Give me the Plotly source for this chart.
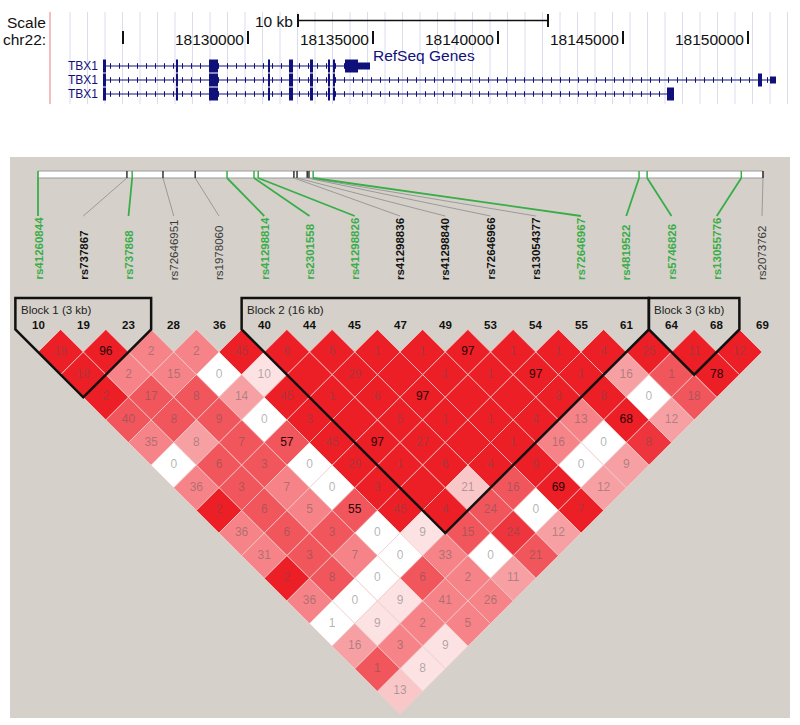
import plotly.graph_objects as go

W, H = 800, 725

# ---------------- data ----------------
snp_ids = [10, 19, 23, 28, 36, 40, 44, 45, 47, 49, 53, 54, 55, 61, 64, 68, 69]
snp_names = ["rs41260844", "rs737867", "rs737868", "rs72646951", "rs1978060",
             "rs41298814", "rs2301558", "rs41298826", "rs41298836", "rs41298840",
             "rs72646966", "rs13054377", "rs72646967", "rs4819522", "rs5746826",
             "rs13055776", "rs2073762"]
# g = green (tagged), b = bold black, n = normal grey
snp_group = ["g", "b", "g", "n", "n", "g", "g", "g", "b", "b", "b", "b", "g", "g", "g", "g", "n"]
# relative physical position of each SNP along the map bar (kb)
snp_pos_kb = [0.0, 2.54, 2.69, 3.57, 4.49, 5.40, 6.17, 6.29, 7.31, 7.40, 7.69, 7.74, 7.86,
              17.17, 17.40, 20.09, 20.71]

# LD values shown in the cells, one list per diagonal distance d = j - i (None = no number)
ld_rows = [
    [18, 96, 2, 2, 45, 6, 6, 1, 1, 97, 1, 1, 4, 25, 11, 12],
    [18, 2, 15, 0, 10, None, 29, None, 1, 1, 97, 1, 16, 1, 78],
    [2, 17, 8, 14, 45, 1, 6, 97, None, None, 3, 8, 0, 18],
    [40, 8, 9, 0, 3, None, 5, 1, 1, 4, 13, 68, 12],
    [35, 8, 7, 57, 45, 97, 27, None, 1, 16, 0, 8],
    [0, 6, 3, 0, 29, 1, 6, 4, 9, 0, 9],
    [36, 3, 7, 0, 3, None, 21, 16, 69, 12],
    [2, 6, 5, 55, 45, 4, 24, 0, 7],
    [36, 6, 3, 0, 9, 15, 24, 12],
    [31, 3, 7, 0, 33, 0, 21],
    [2, 8, 0, 6, 2, 11],
    [36, 0, 9, 41, 26],
    [1, 9, 2, 5],
    [16, 3, 9],
    [1, 8],
    [13],
]
# colour strength of each cell (D' estimate, 0 = white, 100 = full red)
R, M0, M1, M2, L1, L2, L3, Wt = 100, 90, 75, 55, 42, 25, 13, 0
dp_rows = [
    [R, R, M2, M2, R, R, R, R, R, R, R, R, R, R, R, R],
    [R, M2, M2, Wt, L3, R, R, R, R, R, R, R, L1, M1, R],
    [R, M1, M1, L1, R, R, R, R, R, R, R, R, Wt, M1],
    [M1, M1, M1, Wt, R, R, R, R, R, R, M2, R, L1],
    [M2, L1, M1, M1, R, R, R, R, R, M2, Wt, M0],
    [Wt, M1, M1, Wt, R, R, R, R, R, Wt, L1],
    [M2, M1, M2, Wt, R, R, L2, M1, R, L1],
    [R, M1, M2, M1, R, R, M1, Wt, R],
    [M2, M1, M1, Wt, L3, M1, M0, L1],
    [M2, M1, M2, Wt, M2, Wt, M1],
    [R, M1, Wt, M1, M2, L1],
    [M2, Wt, L3, M2, M2],
    [Wt, L3, M2, M2],
    [L1, M2, L3],
    [M1, L3],
    [L2],
]
blocks = [(0, 2, "Block 1 (3 kb)"), (5, 13, "Block 2 (16 kb)"), (14, 15, "Block 3 (3 kb)")]

# UCSC gene track (bp)
tx_start = 18124200
tx_ends = [18134880, 18151120, 18147040]
shared_exons = [(18124200, 18124320), (18127120, 18127200), (18128440, 18128800),
                (18130800, 18130880), (18131640, 18131800), (18132480, 18132600),
                (18133200, 18133280), (18133400, 18133480)]
row_exons = [
    [(18133880, 18134400, "cds"), (18134400, 18134880, "utr")],
    [(18150400, 18150560, "cds"), (18150880, 18151120, "utr")],
    [(18146760, 18147040, "cds")],
]
coord_ticks = [18125000, 18130000, 18135000, 18140000, 18145000, 18150000]
coord_labels = ["", "18130000", "18135000", "18140000", "18145000", "18150000"]
scale_bar = (18132000, 18142000)

# ---------------- geometry of the picture ----------------
X0, XS = 38.0, 45.25            # SNP k is at pixel X0 + XS*k
Y0, YS = 329.4, 22.625          # row d centre at pixel Y0 + YS*d
BAR0, BAR1 = 38.0, 763.0
KBS = (BAR1 - BAR0) / snp_pos_kb[-1]
BP_REF, BP_PX, BP_SCALE = 18130000, 248.0, 0.025
FONT = "Liberation Sans, Arial, sans-serif"
NAVY = "#10107a"
GREEN = "#38ad48"
RED = (236, 30, 38)


def cell_color(v):
    s = v / 100.0
    r = round(255 * (1 - s) + RED[0] * s)
    g = round(255 * (1 - s) + RED[1] * s)
    b = round(255 * (1 - s) + RED[2] * s)
    return f"rgb({r},{g},{b})"


def bar_px(kb):
    return BAR0 + kb * KBS


fig = go.Figure()
shapes = []
annotations = []

# grey Haploview panel
shapes.append(dict(type="rect", xref="paper", yref="y2", x0=10 / W, x1=790 / W, y0=157, y1=718,
                   fillcolor="#d5d1ca", line=dict(width=0), layer="below"))

# ---------------- UCSC panel ----------------
grid_bp = list(range(18122880, 18151900, 700))
for g in grid_bp:
    shapes.append(dict(type="line", xref="x2", yref="y2", x0=g, x1=g, y0=12, y1=104,
                       line=dict(color="#dcdcf0", width=1), layer="below"))
shapes.append(dict(type="line", xref="x2", yref="y2", x0=18122080, x1=18122080, y0=12, y1=104,
                   line=dict(color="#f2a8a8", width=1.5), layer="below"))
annotations.append(dict(text="Scale", xref="paper", yref="y2", x=48 / W, y=22, xanchor="right",
                        yanchor="middle", showarrow=False, font=dict(family=FONT, size=15.5, color="#111")))
annotations.append(dict(text="chr22:", xref="paper", yref="y2", x=48 / W, y=39, xanchor="right",
                        yanchor="middle", showarrow=False, font=dict(family=FONT, size=15.5, color="#111")))
# scale bar
shapes.append(dict(type="line", xref="x2", yref="y2", x0=scale_bar[0], x1=scale_bar[1], y0=20.5, y1=20.5,
                   line=dict(color="#111", width=1.5)))
for e in scale_bar:
    shapes.append(dict(type="rect", xref="x2", yref="y2", x0=e - 40, x1=e + 40, y0=14, y1=27,
                       fillcolor="#111", line=dict(width=0)))
annotations.append(dict(text="10 kb", xref="x2", yref="y2", x=scale_bar[0] - 120, y=21, xanchor="right",
                        yanchor="middle", showarrow=False, font=dict(family=FONT, size=15.5, color="#111")))
for t, lab in zip(coord_ticks, coord_labels):
    shapes.append(dict(type="rect", xref="x2", yref="y2", x0=t - 40, x1=t + 40, y0=31, y1=44,
                       fillcolor="#111", line=dict(width=0)))
    if lab:
        annotations.append(dict(text=lab, xref="x2", yref="y2", x=t - 80, y=39, xanchor="right",
                                yanchor="middle", showarrow=False,
                                font=dict(family=FONT, size=15.5, color="#111")))
annotations.append(dict(text="RefSeq Genes", xref="paper", yref="y2", x=424 / W, y=55, xanchor="center",
                        yanchor="middle", showarrow=False, font=dict(family=FONT, size=15.5, color=NAVY)))

row_y = [66, 80, 94]
for r, (yv, tend) in enumerate(zip(row_y, tx_ends)):
    annotations.append(dict(text="TBX1", xref="paper", yref="y2", x=100 / W, y=yv, xanchor="right",
                            yanchor="middle", showarrow=False, font=dict(family=FONT, size=12, color=NAVY)))
    shapes.append(dict(type="line", xref="x2", yref="y2", x0=tx_start, x1=tend, y0=yv, y1=yv,
                       line=dict(color=NAVY, width=1.2), layer="below"))
    chev = list(range(tx_start + 300, tend - 150, 360))
    fig.add_trace(go.Scatter(x=chev, y=[yv] * len(chev), xaxis="x2", yaxis="y2", mode="markers",
                             marker=dict(symbol="line-ns-open", size=4, color=NAVY,
                                         line=dict(color=NAVY, width=1)),
                             hoverinfo="skip", showlegend=False))
    for (a, b) in shared_exons:
        shapes.append(dict(type="rect", xref="x2", yref="y2", x0=a, x1=b, y0=yv - 6.5, y1=yv + 6.5,
                           fillcolor=NAVY, line=dict(width=0)))
    for (a, b, kind) in row_exons[r]:
        h = 6.5 if kind == "cds" else 3.5
        shapes.append(dict(type="rect", xref="x2", yref="y2", x0=a, x1=b, y0=yv - h, y1=yv + h,
                           fillcolor=NAVY, line=dict(width=0)))

# ---------------- SNP map bar and labels ----------------
shapes.append(dict(type="rect", xref="x3", yref="y2", x0=snp_pos_kb[0], x1=snp_pos_kb[-1], y0=171, y1=178,
                   fillcolor="white", line=dict(color="#9a9a9a", width=1)))
for k, (pos, grp, name) in enumerate(zip(snp_pos_kb, snp_group, snp_names)):
    col = GREEN if grp == "g" else "#333333"
    lcol = GREEN if grp == "g" else "#9a9a9a"
    lw = 1.8 if grp == "g" else 1
    shapes.append(dict(type="line", xref="x3", yref="y2", x0=pos, x1=pos, y0=171, y1=178,
                       line=dict(color=col, width=1.5)))
    shapes.append(dict(type="line", xref="paper", yref="y2", x0=bar_px(pos) / W, x1=(X0 + XS * k) / W,
                       y0=178, y1=216, line=dict(color=lcol, width=lw)))
    txt = name if grp == "n" else f"<b>{name}</b>"
    tcol = GREEN if grp == "g" else ("#111" if grp == "b" else "#3a3a3a")
    annotations.append(dict(text=txt, xref="x", yref="y2", x=k, y=282, xanchor="center", yanchor="bottom",
                            textangle=-90, showarrow=False, font=dict(family=FONT, size=11.5, color=tcol)))
    annotations.append(dict(text=f"<b>{snp_ids[k]}</b>", xref="x", yref="y2", x=k, y=324.5,
                            xanchor="center", yanchor="middle", showarrow=False,
                            font=dict(family=FONT, size=11.5, color="#111")))

# ---------------- LD diamonds ----------------
cx, cy, ctext, ccol = [], [], [], []
for d, (vals, dps) in enumerate(zip(ld_rows, dp_rows), start=1):
    for i, (v, dp) in enumerate(zip(vals, dps)):
        j = i + d
        xc = (i + j) / 2
        path = f"M {xc - 0.5},{d} L {xc},{d - 1} L {xc + 0.5},{d} L {xc},{d + 1} Z"
        shapes.append(dict(type="path", xref="x", yref="y", path=path, fillcolor=cell_color(dp),
                           line=dict(color="rgba(240,205,205,0.75)", width=1), layer="below"))
        if v is not None:
            cx.append(xc)
            cy.append(d)
            ctext.append(str(v))
            ccol.append("#2a0406" if v >= 50 else "rgba(85,85,85,0.45)")
fig.add_trace(go.Scatter(x=cx, y=cy, text=ctext, mode="text", xaxis="x", yaxis="y",
                         textfont=dict(family=FONT, size=12, color=ccol), textposition="middle center",
                         hoverinfo="skip", showlegend=False))

# haplotype blocks
top_d = (298 - Y0) / YS
for a, b, lab in blocks:
    path = (f"M {a - 0.5},{top_d} L {b + 0.5},{top_d} L {b + 0.5},0 "
            f"L {(a + b) / 2},{b - a + 1} L {a - 0.5},0 Z")
    shapes.append(dict(type="path", xref="x", yref="y", path=path, line=dict(color="#111", width=2.5)))
    annotations.append(dict(text=lab, xref="x", yref="y2", x=a - 0.5 + 0.07, y=309.5, xanchor="left",
                            yanchor="middle", showarrow=False, font=dict(family=FONT, size=11.5, color="#222")))

fig.add_trace(go.Scatter(x=[snp_pos_kb[0]], y=[0], xaxis="x3", yaxis="y2", mode="markers",
                         marker=dict(opacity=0), hoverinfo="skip", showlegend=False))

fig.update_layout(
    width=W, height=H, autosize=False,
    margin=dict(l=0, r=0, t=0, b=0, pad=0),
    paper_bgcolor="white", plot_bgcolor="rgba(0,0,0,0)",
    showlegend=False,
    xaxis=dict(range=[-X0 / XS, (W - X0) / XS], domain=[0, 1], visible=False, fixedrange=True),
    yaxis=dict(range=[(H - Y0) / YS, -Y0 / YS], domain=[0, 1], visible=False, fixedrange=True),
    xaxis2=dict(range=[BP_REF - BP_PX / BP_SCALE, BP_REF + (W - BP_PX) / BP_SCALE], overlaying="x",
                anchor="y2", visible=False, fixedrange=True),
    xaxis3=dict(range=[-BAR0 / KBS, (W - BAR0) / KBS], overlaying="x", anchor="y2", visible=False,
                fixedrange=True),
    yaxis2=dict(range=[H, 0], overlaying="y", anchor="x2", visible=False, fixedrange=True),
    shapes=shapes,
    annotations=annotations,
)

fig.write_html("out.html", config={"displayModeBar": False},
               post_script="document.body.style.margin='0px';document.body.style.overflow='hidden';")
